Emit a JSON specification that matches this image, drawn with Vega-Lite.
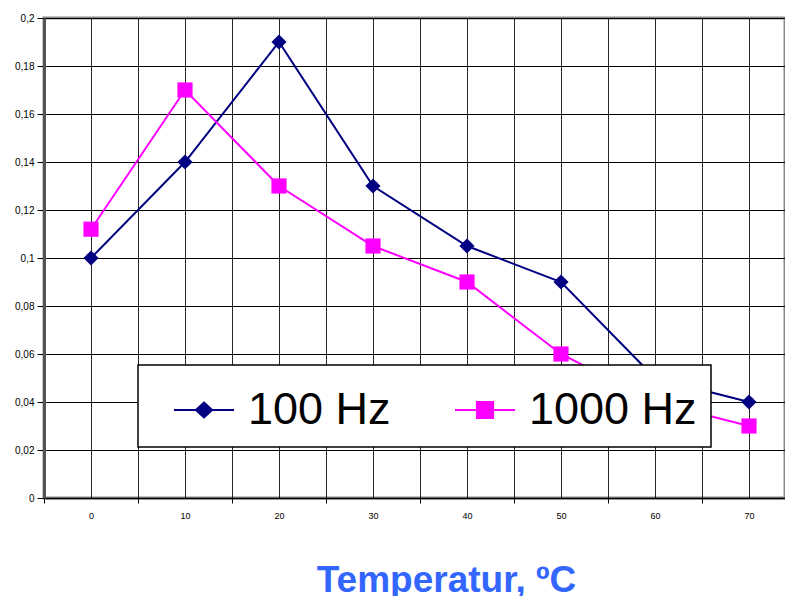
{
  "$schema": "https://vega.github.io/schema/vega-lite/v6.json",
  "width": 741,
  "height": 480,
  "autosize": {"type": "none"},
  "padding": {"left": 44, "top": 18, "right": 0, "bottom": 98},
  "background": "white",
  "config": {
    "view": {"stroke": "#8a8a8a", "strokeWidth": 3},
    "font": "Liberation Sans"
  },
  "data": {
    "values": [
      {"temp": 0, "series": "100 Hz", "value": 0.1},
      {"temp": 10, "series": "100 Hz", "value": 0.14},
      {"temp": 20, "series": "100 Hz", "value": 0.19},
      {"temp": 30, "series": "100 Hz", "value": 0.13},
      {"temp": 40, "series": "100 Hz", "value": 0.105},
      {"temp": 50, "series": "100 Hz", "value": 0.09},
      {"temp": 60, "series": "100 Hz", "value": 0.05},
      {"temp": 70, "series": "100 Hz", "value": 0.04},
      {"temp": 0, "series": "1000 Hz", "value": 0.112},
      {"temp": 10, "series": "1000 Hz", "value": 0.17},
      {"temp": 20, "series": "1000 Hz", "value": 0.13},
      {"temp": 30, "series": "1000 Hz", "value": 0.105},
      {"temp": 40, "series": "1000 Hz", "value": 0.09},
      {"temp": 50, "series": "1000 Hz", "value": 0.06},
      {"temp": 60, "series": "1000 Hz", "value": 0.04},
      {"temp": 70, "series": "1000 Hz", "value": 0.03}
    ]
  },
  "encoding": {
    "x": {
      "field": "temp",
      "type": "quantitative",
      "scale": {"domain": [-5, 73.83], "nice": false, "zero": false},
      "axis": {
        "values": [-5, 0, 5, 10, 15, 20, 25, 30, 35, 40, 45, 50, 55, 60, 65, 70],
        "grid": true,
        "gridColor": "#000000",
        "gridWidth": 1,
        "gridOpacity": 0.85,
        "domainColor": "#000000",
        "domainWidth": 1.5,
        "tickColor": "#000000",
        "tickSize": 5,
        "tickWidth": 1,
        "tickOpacity": {"condition": {"test": "datum.value % 10 == 0", "value": 0}, "value": 1},
        "labelExpr": "datum.value % 10 == 0 ? datum.label : ''",
        "labelOverlap": false,
        "labelFontSize": 9,
        "labelFont": "Liberation Sans",
        "labelColor": "#000000",
        "labelPadding": 8,
        "title": "Temperatur, ºC",
        "titleFont": "Liberation Sans",
        "titleFontSize": 37,
        "titleFontWeight": "bold",
        "titleColor": "#3366FF",
        "titleX": 402,
        "titleY": 93,
        "titleBaseline": "alphabetic"
      }
    },
    "y": {
      "field": "value",
      "type": "quantitative",
      "scale": {"domain": [0, 0.2], "nice": false},
      "axis": {
        "values": [0, 0.02, 0.04, 0.06, 0.08, 0.1, 0.12, 0.14, 0.16, 0.18, 0.2],
        "format": "~g",
        "labelExpr": "replace(datum.label, '.', ',')",
        "grid": true,
        "gridColor": "#000000",
        "gridWidth": 1,
        "domainColor": "#555555",
        "domainWidth": 3,
        "tickColor": "#000000",
        "tickSize": 7,
        "labelFontSize": 10,
        "labelFont": "Liberation Sans",
        "labelColor": "#000000",
        "labelPadding": 3,
        "title": null
      }
    },
    "color": {
      "field": "series",
      "type": "nominal",
      "scale": {"domain": ["100 Hz", "1000 Hz"], "range": ["#000080", "#FF00FF"]},
      "legend": {
        "orient": "none",
        "legendX": 94,
        "legendY": 347,
        "direction": "horizontal",
        "title": null,
        "fillColor": "white",
        "strokeColor": "#000000",
        "padding": 14,
        "symbolOffset": 21,
        "symbolSize": 3600,
        "symbolStrokeWidth": 2,
        "labelFontSize": 45,
        "labelFont": "Liberation Sans",
        "labelColor": "#000000",
        "labelOffset": 13,
        "columnPadding": 42,
        "labelLimit": 400,
        "labelExpr": "datum.value == '1000 Hz' ? datum.label + '\u00a0\u00a0' : datum.label",
        "encode": {
          "legend": {"update": {"strokeWidth": {"value": 1.5}}},
          "symbols": {
            "update": {
              "shape": {"signal": "datum.value == '100 Hz' ? 'M-1,0H1M0,-0.25L0.27,0L0,0.25L-0.27,0Z' : 'M-1,0H1M-0.27,-0.27H0.27V0.27H-0.27Z'"},
              "strokeWidth": {"value": 2},
              "opacity": {"value": 1}
            }
          }
        }
      }
    }
  },
  "layer": [
    {
      "mark": {"type": "line", "strokeWidth": 2}
    },
    {
      "transform": [{"filter": "datum.series == '100 Hz'"}],
      "mark": {"type": "point", "filled": true, "size": 230, "opacity": 1, "shape": "diamond"}
    },
    {
      "transform": [{"filter": "datum.series == '1000 Hz'"}],
      "mark": {"type": "point", "filled": true, "size": 230, "opacity": 1, "shape": "square"}
    }
  ]
}
